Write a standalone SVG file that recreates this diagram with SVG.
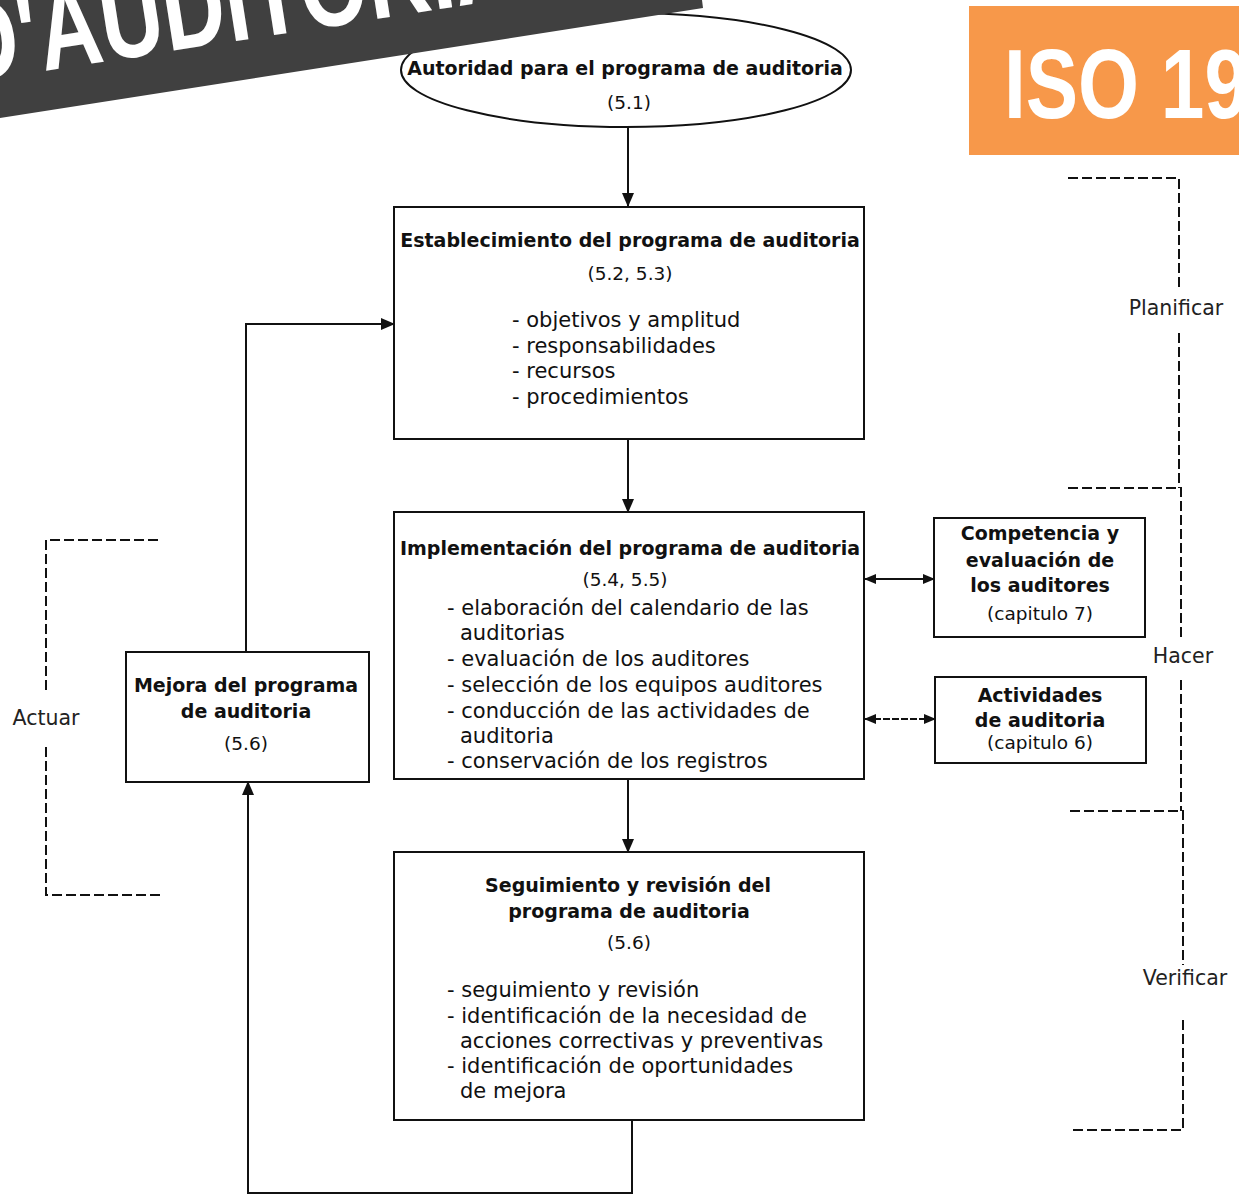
<svg xmlns="http://www.w3.org/2000/svg" width="1239" height="1196" viewBox="0 0 1239 1196">
<style>
.box{fill:#fff;stroke:#111;stroke-width:2}
.t{font-family:"DejaVu Sans",sans-serif;font-size:21px;fill:#111}
.b{font-family:"DejaVu Sans",sans-serif;font-size:19px;font-weight:bold;fill:#111}
.p{font-family:"DejaVu Sans",sans-serif;font-size:18.5px;fill:#111}
.c{text-anchor:middle}
.lbl{font-family:"DejaVu Sans",sans-serif;font-size:20.5px;fill:#222;text-anchor:middle}
.con{fill:none;stroke:#111;stroke-width:2}
.dash{fill:none;stroke:#111;stroke-width:2;stroke-dasharray:10 4}
</style>
<defs>
<marker id="ah" markerUnits="userSpaceOnUse" markerWidth="14" markerHeight="12" refX="13" refY="6" orient="auto-start-reverse">
<path d="M0,0 L14,6 L0,12 z" fill="#111"/>
</marker>
<marker id="ah2" markerUnits="userSpaceOnUse" markerWidth="12" markerHeight="10" refX="11" refY="5" orient="auto-start-reverse">
<path d="M0,0 L12,5 L0,10 z" fill="#111"/>
</marker>
</defs>
<rect width="1239" height="1196" fill="#fff"/>

<g id="autoridad">
<ellipse cx="626" cy="70" rx="225" ry="57" class="box"/>
<text class="b c" x="625" y="75">Autoridad para el programa de auditoria</text>
<text class="p c" x="629" y="109">(5.1)</text>
</g>

<g id="banner">
<polygon points="0,0 702,0 703,8 0,118" fill="#404040"/>
<text transform="translate(0,77.8) rotate(-8.87) scale(0.75,1)" x="-52" y="0" font-family="'Liberation Sans',Arial,sans-serif" font-weight="bold" font-size="116" fill="#fff">D'AUDITORIA</text>
</g>

<g id="iso">
<rect x="969" y="6" width="270" height="149" fill="#F7984A"/>
<text transform="translate(1004,118) scale(0.8,1)" x="0" y="0" font-family="'Liberation Sans',Arial,sans-serif" font-weight="bold" font-size="98" fill="#fff">ISO 19</text>
</g>

<g id="connectors">
<line class="con" x1="628" y1="127" x2="628" y2="206" marker-end="url(#ah)"/>
<line class="con" x1="628" y1="440" x2="628" y2="512" marker-end="url(#ah)"/>
<line class="con" x1="628" y1="779" x2="628" y2="852" marker-end="url(#ah)"/>
<polyline class="con" points="246,652 246,324 394,324" marker-end="url(#ah)"/>
<polyline class="con" points="632,1121 632,1193 248,1193 248,782" marker-end="url(#ah)"/>
<line class="con" x1="865" y1="579" x2="934" y2="579" marker-start="url(#ah2)" marker-end="url(#ah2)"/>
<line class="con" x1="865" y1="719" x2="935" y2="719" stroke-width="1.5" stroke-dasharray="7 2" marker-start="url(#ah2)" marker-end="url(#ah2)"/>
</g>

<g id="establecimiento">
<rect x="394" y="207" width="470" height="232" class="box"/>
<text class="b c" x="630" y="247">Establecimiento del programa de auditoria</text>
<text class="p c" x="630" y="280">(5.2, 5.3)</text>
<text class="t" x="512" y="327">- objetivos y amplitud</text>
<text class="t" x="512" y="353">- responsabilidades</text>
<text class="t" x="512" y="378">- recursos</text>
<text class="t" x="512" y="404">- procedimientos</text>
</g>

<g id="implementacion">
<rect x="394" y="512" width="470" height="267" class="box"/>
<text class="b c" x="630" y="555">Implementación del programa de auditoria</text>
<text class="p c" x="625" y="586">(5.4, 5.5)</text>
<text class="t" x="447" y="615">- elaboración del calendario de las</text>
<text class="t" x="460" y="640">auditorias</text>
<text class="t" x="447" y="666">- evaluación de los auditores</text>
<text class="t" x="447" y="692">- selección de los equipos auditores</text>
<text class="t" x="447" y="718">- conducción de las actividades de</text>
<text class="t" x="460" y="743">auditoria</text>
<text class="t" x="447" y="768">- conservación de los registros</text>
</g>

<g id="seguimiento">
<rect x="394" y="852" width="470" height="268" class="box"/>
<text class="b c" x="628" y="892">Seguimiento y revisión del</text>
<text class="b c" x="629" y="918">programa de auditoria</text>
<text class="p c" x="629" y="949">(5.6)</text>
<text class="t" x="447" y="997">- seguimiento y revisión</text>
<text class="t" x="447" y="1023">- identificación de la necesidad de</text>
<text class="t" x="460" y="1048">acciones correctivas y preventivas</text>
<text class="t" x="447" y="1073">- identificación de oportunidades</text>
<text class="t" x="460" y="1098">de mejora</text>
</g>

<g id="mejora">
<rect x="126" y="652" width="243" height="130" class="box"/>
<text class="b c" x="246" y="692">Mejora del programa</text>
<text class="b c" x="246" y="718">de auditoria</text>
<text class="p c" x="246" y="750">(5.6)</text>
</g>

<g id="competencia">
<rect x="934" y="518" width="211" height="119" class="box"/>
<text class="b c" x="1040" y="540">Competencia y</text>
<text class="b c" x="1040" y="567">evaluación de</text>
<text class="b c" x="1040" y="592">los auditores</text>
<text class="p c" x="1040" y="620">(capitulo 7)</text>
</g>

<g id="actividades">
<rect x="935" y="677" width="211" height="86" class="box"/>
<text class="b c" x="1040" y="702">Actividades</text>
<text class="b c" x="1040" y="727">de auditoria</text>
<text class="p c" x="1040" y="749">(capitulo 6)</text>
</g>

<g id="fases">
<path class="dash" d="M1068,178 H1179 V290 M1179,333 V488"/>
<text class="lbl" x="1176" y="315">Planificar</text>
<path class="dash" d="M1068,488 H1181 V640 M1181,680 V811"/>
<text class="lbl" x="1183" y="663">Hacer</text>
<path class="dash" d="M1070,811 H1183 V965 M1183,1020 V1130 H1073"/>
<text class="lbl" x="1185" y="985">Verificar</text>
<path class="dash" d="M158,540 H46 V690 M46,747 V895 H160"/>
<text class="lbl" x="46" y="725">Actuar</text>
</g>
</svg>
